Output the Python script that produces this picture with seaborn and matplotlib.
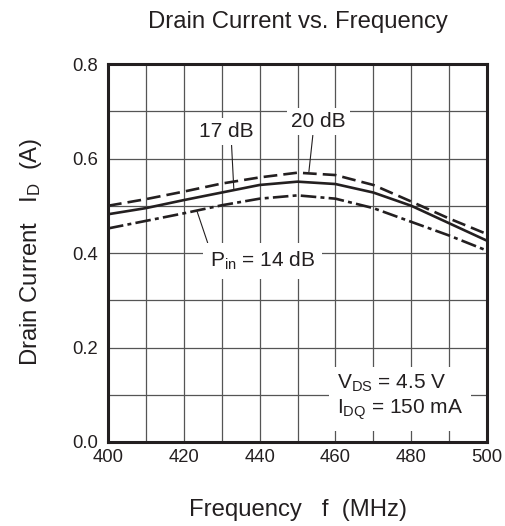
import seaborn as sns
import matplotlib.pyplot as plt
from matplotlib.ticker import MultipleLocator, FormatStrFormatter
import pandas as pd

# DATA
freq = [400, 410, 420, 430, 440, 450, 460, 470, 480, 490, 500]
id_20db = [0.500, 0.514, 0.530, 0.547, 0.560, 0.570, 0.565, 0.544, 0.509, 0.473, 0.440]
id_17db = [0.482, 0.495, 0.512, 0.528, 0.544, 0.551, 0.546, 0.528, 0.500, 0.463, 0.426]
id_14db = [0.452, 0.468, 0.484, 0.501, 0.515, 0.522, 0.515, 0.495, 0.466, 0.437, 0.405]
pin_levels = ['20 dB', '17 dB', '14 dB']

df = pd.concat([
    pd.DataFrame({'freq': freq, 'current': id_20db, 'pin': '20 dB'}),
    pd.DataFrame({'freq': freq, 'current': id_17db, 'pin': '17 dB'}),
    pd.DataFrame({'freq': freq, 'current': id_14db, 'pin': '14 dB'}),
])

INK = '#231f20'
GRID = '#555555'

sns.set_theme(style='white')
plt.rcParams['font.family'] = ['Liberation Sans', 'DejaVu Sans']
plt.rcParams['mathtext.fontset'] = 'custom'
plt.rcParams['mathtext.rm'] = 'Liberation Sans'
plt.rcParams['mathtext.it'] = 'Liberation Sans'

fig = plt.figure(figsize=(5.05, 5.26), dpi=100)
ax = fig.add_axes([0.2139, 0.1597, 0.7505, 0.7186])

# CURVES
sns.lineplot(data=df, x='freq', y='current', style='pin', style_order=pin_levels,
             dashes={'20 dB': (5.2, 2.3), '17 dB': '', '14 dB': (5.9, 1.6, 1.5, 1.6)},
             color=INK, linewidth=1.9, legend=False, ax=ax, zorder=3)

# AXES, TICKS AND GRID
ax.set_xlim(400, 500)
ax.set_ylim(0, 0.8)
ax.xaxis.set_major_locator(MultipleLocator(20))
ax.xaxis.set_minor_locator(MultipleLocator(10))
ax.yaxis.set_major_locator(MultipleLocator(0.2))
ax.yaxis.set_minor_locator(MultipleLocator(0.1))
ax.yaxis.set_major_formatter(FormatStrFormatter('%.1f'))
ax.grid(True, which='both', color=GRID, linewidth=0.9)
ax.set_axisbelow(True)
ax.tick_params(which='both', length=0, labelsize=13.3, colors=INK)
ax.tick_params(axis='x', pad=5)
ax.tick_params(axis='y', pad=7)
for sp in ax.spines.values():
    sp.set_visible(True)
    sp.set_color(INK)
    sp.set_linewidth(2.2)
    sp.set_zorder(5)

# LABELS
ax.set_title('Drain Current vs. Frequency', fontsize=17.2, color=INK, pad=26)
ax.set_xlabel('Frequency   f  (MHz)', fontsize=17.2, color=INK)
ax.set_ylabel(r'Drain Current   I$_\mathregular{D}$  (A)', fontsize=17.2, color=INK)
ax.xaxis.set_label_coords(0.5, -0.15)
ax.yaxis.set_label_coords(-0.168, 0.503)

# ANNOTATIONS
box = dict(facecolor='white', edgecolor='none', pad=3)
lead = dict(arrowstyle='-', color=INK, lw=0.8, shrinkA=0, shrinkB=0)
ax.annotate('20 dB', xy=(453, 0.572), xytext=(455.6, 0.678), ha='center', va='center',
            fontsize=15, color=INK, bbox=box, zorder=4,
            arrowprops=dict(lead, relpos=(0.4, 0.0)))
ax.annotate('17 dB', xy=(433.2, 0.534), xytext=(431.1, 0.657), ha='center', va='center',
            fontsize=15, color=INK, bbox=box, zorder=4,
            arrowprops=dict(lead, relpos=(0.6, 0.0)))
ax.annotate(r'P$_\mathregular{in}$ = 14 dB', xy=(423.5, 0.488), xytext=(440.8, 0.371),
            ha='center', va='baseline', fontsize=15, color=INK, bbox=dict(box, pad=5),
            zorder=4, arrowprops=dict(lead, relpos=(0.0, 1.0)))
ax.text(460.4, 0.0593,
        'V$_\\mathregular{DS}$ = 4.5 V\nI$_\\mathregular{DQ}$ = 150 mA',
        ha='left', va='baseline', fontsize=15, color=INK, linespacing=1.25,
        bbox=dict(facecolor='white', edgecolor='none', pad=6), zorder=4)

fig.savefig('out.png', dpi=100)
